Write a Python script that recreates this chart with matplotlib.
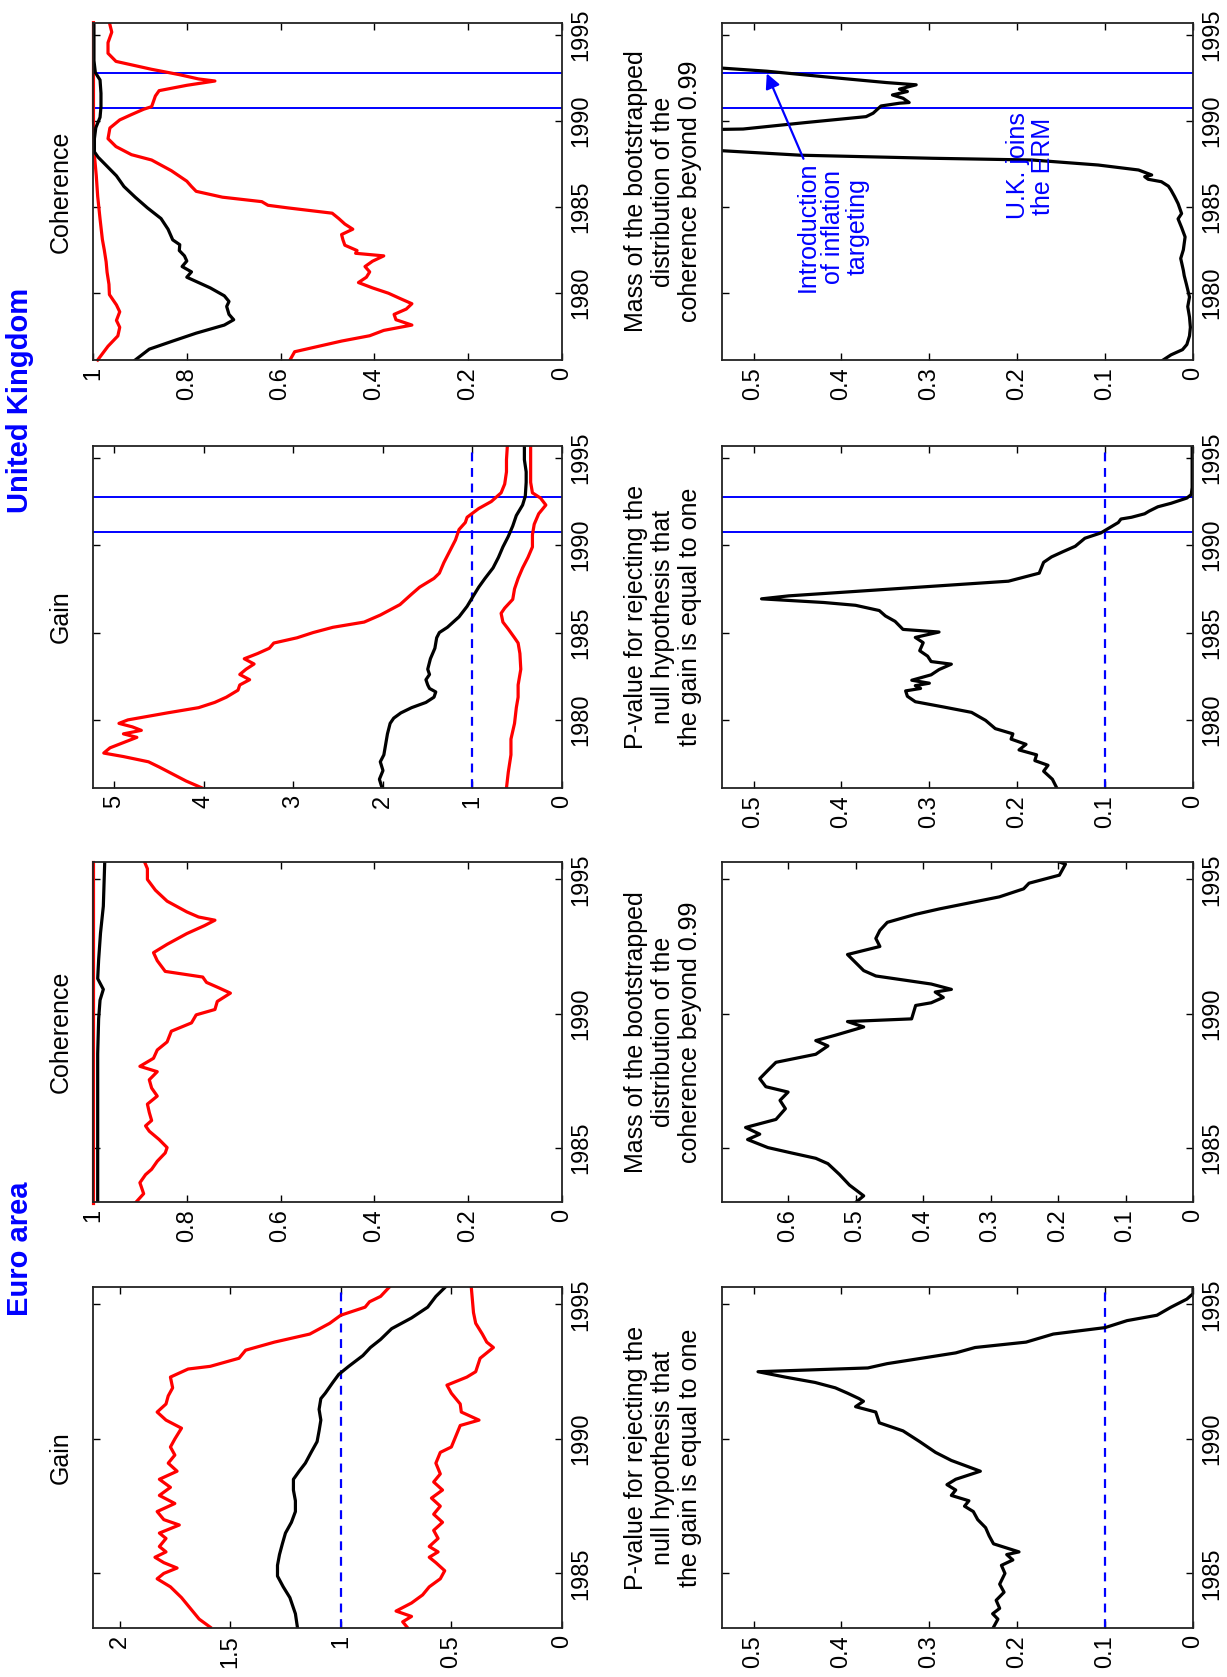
import matplotlib
matplotlib.use('Agg')
import matplotlib.pyplot as plt

plt.rcParams['font.family'] = ['Liberation Sans', 'DejaVu Sans']

# ---------------- DATA ----------------
# United Kingdom - Gain
uk_gain_t = [1976.1, 1976.6, 1977.1, 1977.6, 1978.0, 1978.6, 1979.2, 1979.8, 1980.1, 1980.4, 1980.7, 1981.0,
             1981.3, 1981.6, 1981.8, 1982.0, 1982.3, 1982.6, 1982.9, 1983.5, 1984.1, 1984.7, 1985.0, 1985.3,
             1985.9, 1986.5, 1987.1, 1987.6, 1988.1, 1988.7, 1989.3, 1989.9, 1990.5, 1991.1, 1991.7, 1992.3,
             1992.8, 1993.6, 1994.2, 1994.9, 1995.7]
uk_gain_v = [2.01, 2.04, 2.00, 2.03, 1.99, 1.97, 1.95, 1.92, 1.88, 1.80, 1.68, 1.52,
             1.43, 1.41, 1.48, 1.50, 1.52, 1.48, 1.50, 1.47, 1.42, 1.40, 1.37, 1.28,
             1.15, 1.06, 0.99, 0.93, 0.86, 0.77, 0.71, 0.66, 0.60, 0.55, 0.51, 0.44,
             0.41, 0.40, 0.40, 0.42, 0.42]
uk_gain_hi_t = [1976.1, 1976.5, 1976.9, 1977.3, 1977.6, 1977.9, 1978.1, 1978.4, 1978.7, 1979.0, 1979.2, 1979.4,
                1979.6, 1979.8, 1980.0, 1980.4, 1980.7, 1981.0, 1981.3, 1981.7, 1982.0, 1982.3, 1982.6, 1982.9,
                1983.2, 1983.5, 1983.8, 1984.1, 1984.4, 1984.7, 1985.0, 1985.3, 1985.6, 1986.0, 1986.3, 1986.6,
                1987.2, 1987.6, 1988.1, 1988.4, 1989.0, 1989.6, 1990.3, 1990.9, 1991.3, 1991.6, 1992.1, 1992.5,
                1993.0, 1993.5, 1994.2, 1994.9, 1995.7]
uk_gain_hi_v = [4.02, 4.20, 4.35, 4.50, 4.62, 4.90, 5.12, 5.05, 4.90, 4.75, 4.90, 4.70,
                4.80, 4.95, 4.85, 4.41, 4.06, 3.88, 3.75, 3.62, 3.60, 3.49, 3.60, 3.53,
                3.44, 3.55, 3.40, 3.27, 3.22, 2.96, 2.78, 2.56, 2.21, 2.03, 1.92, 1.81,
                1.68, 1.59, 1.43, 1.37, 1.32, 1.26, 1.19, 1.15, 1.08, 1.06, 0.93, 0.79,
                0.68, 0.64, 0.62, 0.62, 0.61]
uk_gain_lo_t = [1976.1, 1977.0, 1978.0, 1978.9, 1979.8, 1980.7, 1981.3, 1982.0, 1982.9, 1983.8, 1984.4, 1984.7,
                1985.2, 1985.6, 1986.1, 1986.4, 1986.9, 1987.5, 1988.1, 1988.7, 1989.3, 1989.9, 1990.6, 1991.2,
                1991.8, 1992.3, 1992.7, 1993.0, 1993.6, 1994.5, 1995.7]
uk_gain_lo_v = [0.62, 0.60, 0.57, 0.57, 0.53, 0.51, 0.49, 0.49, 0.46, 0.47, 0.49, 0.53,
                0.60, 0.66, 0.68, 0.64, 0.55, 0.53, 0.49, 0.44, 0.38, 0.33, 0.33, 0.31,
                0.26, 0.18, 0.24, 0.33, 0.35, 0.35, 0.35]

# United Kingdom - Coherence
uk_coh_t = [1976.1, 1976.73, 1977.2, 1977.66, 1978.13, 1978.44, 1978.75, 1979.21, 1979.5, 1979.83, 1980.29,
            1980.6, 1980.91, 1981.22, 1981.53, 1981.85, 1982.15, 1982.46, 1982.8, 1983.08, 1983.7, 1984.32,
            1984.94, 1985.56, 1986.18, 1986.8, 1987.41, 1987.88, 1988.19, 1988.96, 1989.6, 1990.2, 1990.82,
            1991.6, 1992.37, 1992.8, 1993.5, 1995.7]
uk_coh_v = [0.91, 0.88, 0.83, 0.78, 0.72, 0.70, 0.71, 0.715, 0.71, 0.72, 0.75,
            0.775, 0.80, 0.79, 0.81, 0.80, 0.805, 0.816, 0.815, 0.83, 0.84, 0.855,
            0.884, 0.91, 0.934, 0.95, 0.972, 0.989, 0.997, 0.997, 0.994, 0.985, 0.983,
            0.983, 0.985, 0.995, 0.998, 0.998]
uk_coh_hi_t = [1976.1, 1976.9, 1977.5, 1978.0, 1978.4, 1978.9, 1979.3, 1979.9, 1980.5, 1981.2, 1981.8,
               1982.5, 1983.1, 1984.3, 1985.6, 1986.8, 1988.0, 1990.0, 1995.7]
uk_coh_hi_v = [0.99, 0.968, 0.947, 0.943, 0.95, 0.943, 0.95, 0.965, 0.966, 0.97, 0.972,
               0.976, 0.98, 0.985, 0.99, 0.993, 0.997, 0.999, 0.999]
uk_coh_lo_t = [1976.1, 1976.58, 1976.89, 1977.2, 1977.51, 1977.82, 1978.13, 1978.44, 1978.75, 1979.06,
               1979.37, 1979.67, 1979.98, 1980.29, 1980.6, 1980.91, 1981.22, 1981.53, 1981.84, 1982.15,
               1982.3, 1982.46, 1982.77, 1983.08, 1983.39, 1983.7, 1984.0, 1984.32, 1984.63, 1984.94,
               1985.09, 1985.3, 1985.56, 1985.9, 1986.18, 1986.49, 1987.1, 1987.72, 1988.03, 1988.5,
               1988.96, 1989.58, 1990.05, 1990.36, 1990.67, 1990.82, 1991.13, 1991.44, 1991.75, 1992.06,
               1992.31, 1992.43, 1992.68, 1992.99, 1993.45, 1993.92, 1994.54, 1995.15, 1995.7]
uk_coh_lo_v = [0.58, 0.57, 0.52, 0.47, 0.41, 0.38, 0.32, 0.354, 0.358, 0.332,
               0.32, 0.345, 0.37, 0.404, 0.434, 0.417, 0.41, 0.42, 0.404, 0.38,
               0.44, 0.437, 0.463, 0.467, 0.47, 0.446, 0.463, 0.476, 0.49, 0.585,
               0.627, 0.64, 0.724, 0.78, 0.79, 0.80, 0.833, 0.875, 0.918, 0.951,
               0.968, 0.964, 0.943, 0.918, 0.892, 0.875, 0.871, 0.867, 0.859, 0.80,
               0.74, 0.775, 0.816, 0.875, 0.951, 0.968, 0.968, 0.96, 0.965]

# United Kingdom - P-value (gain = 1)
uk_pv_t = [1976.1, 1976.6, 1977.06, 1977.4, 1977.67, 1978.0, 1978.28, 1978.6, 1978.9, 1979.2, 1979.5,
           1979.97, 1980.43, 1980.74, 1981.04, 1981.35, 1981.66, 1981.8, 1981.96, 1982.1, 1982.27, 1982.58,
           1982.88, 1983.19, 1983.34, 1983.65, 1983.96, 1984.42, 1984.72, 1985.03, 1985.18, 1985.64, 1985.95,
           1986.26, 1986.56, 1986.72, 1986.93, 1987.1, 1987.94, 1988.4, 1989.02, 1989.33, 1989.63, 1989.94,
           1990.4, 1990.7, 1991.0, 1991.3, 1991.5, 1991.6, 1991.8, 1991.95, 1992.2, 1992.4, 1992.7, 1992.9,
           1993.3, 1995.7]
uk_pv_v = [0.155, 0.16, 0.17, 0.165, 0.18, 0.178, 0.198, 0.19, 0.207, 0.205, 0.225,
           0.236, 0.252, 0.284, 0.316, 0.325, 0.327, 0.31, 0.316, 0.30, 0.32, 0.298,
           0.289, 0.275, 0.298, 0.302, 0.311, 0.307, 0.316, 0.289, 0.33, 0.339, 0.35,
           0.357, 0.384, 0.42, 0.491, 0.46, 0.21, 0.175, 0.17, 0.161, 0.148, 0.134,
           0.123, 0.105, 0.095, 0.085, 0.082, 0.07, 0.055, 0.05, 0.04, 0.025, 0.007, 0.002,
           0.001, 0.001]

# United Kingdom - Mass of bootstrapped coherence beyond 0.99 (values above 0.536 run off the axis)
uk_mass_t = [1976.1, 1976.4, 1976.7, 1977.0, 1977.5, 1978.0, 1978.6, 1979.2, 1979.76, 1980.5, 1981.0,
             1981.31, 1982.0, 1982.5, 1983.25, 1983.8, 1984.3, 1984.61, 1985.19, 1985.6, 1985.97, 1986.2,
             1986.46, 1986.6, 1986.75, 1986.85, 1987.14, 1987.43, 1987.72, 1987.82, 1988.0, 1988.26, 1988.4,
             1989.4, 1989.5, 1989.52, 1989.9, 1990.24, 1990.44, 1990.86, 1991.02, 1991.06, 1991.31, 1991.5,
             1991.7, 1991.84, 1992.09, 1992.22, 1992.51, 1992.88, 1993.06, 1993.2, 1995.7]
uk_mass_v = [0.034, 0.025, 0.012, 0.007, 0.004, 0.003, 0.004, 0.006, 0.004, 0.0075, 0.01,
             0.011, 0.014, 0.011, 0.009, 0.013, 0.017, 0.013, 0.017, 0.021, 0.025, 0.028,
             0.036, 0.051, 0.055, 0.047, 0.062, 0.108, 0.183, 0.296, 0.447, 0.536, 0.9,
             0.9, 0.536, 0.512, 0.44, 0.372, 0.364, 0.355, 0.334, 0.323, 0.33, 0.342,
             0.325, 0.334, 0.315, 0.349, 0.41, 0.485, 0.536, 0.9, 0.9]

# Euro area - Gain
ea_gain_t = [1983.0, 1983.5, 1984.1, 1984.5, 1984.9, 1985.3, 1985.7, 1986.1, 1986.5, 1986.9, 1987.3, 1987.7,
             1988.1, 1988.5, 1988.8, 1989.1, 1989.5, 1989.9, 1990.3, 1990.7, 1991.1, 1991.5, 1991.7, 1992.1,
             1992.4, 1992.7, 1993.1, 1993.4, 1993.7, 1994.1, 1994.5, 1994.9, 1995.3, 1995.65]
ea_gain_v = [1.196, 1.205, 1.23, 1.26, 1.286, 1.286, 1.277, 1.264, 1.25, 1.223, 1.205, 1.205,
             1.214, 1.214, 1.188, 1.16, 1.134, 1.107, 1.098, 1.09, 1.098, 1.09, 1.07, 1.036,
             1.009, 0.964, 0.90, 0.866, 0.82, 0.77, 0.68, 0.607, 0.57, 0.527]
ea_gain_hi_t = [1983.0, 1983.3, 1983.7, 1984.1, 1984.5, 1984.8, 1985.0, 1985.2, 1985.4, 1985.6, 1985.8, 1986.0,
                1986.3, 1986.5, 1986.8, 1987.0, 1987.3, 1987.6, 1987.9, 1988.2, 1988.5, 1988.8, 1989.1, 1989.4,
                1989.7, 1990.0, 1990.4, 1990.7, 1991.0, 1991.3, 1991.6, 1991.9, 1992.3, 1992.6, 1992.7, 1993.0,
                1993.3, 1993.6, 1993.9, 1994.3, 1994.6, 1994.9, 1995.1, 1995.3, 1995.65]
ea_gain_hi_v = [1.59, 1.64, 1.68, 1.72, 1.77, 1.83, 1.80, 1.74, 1.80, 1.84, 1.79, 1.82,
                1.79, 1.82, 1.73, 1.80, 1.83, 1.75, 1.82, 1.77, 1.82, 1.74, 1.78, 1.75,
                1.77, 1.75, 1.72, 1.79, 1.83, 1.79, 1.78, 1.76, 1.77, 1.69, 1.59, 1.46,
                1.43, 1.30, 1.14, 1.05, 1.00, 0.89, 0.87, 0.82, 0.78]
ea_gain_lo_t = [1983.0, 1983.2, 1983.4, 1983.6, 1983.9, 1984.2, 1984.5, 1984.8, 1985.1, 1985.4, 1985.6, 1985.8,
                1986.0, 1986.3, 1986.6, 1986.9, 1987.2, 1987.5, 1987.8, 1988.1, 1988.4, 1988.7, 1989.1, 1989.5,
                1989.7, 1990.1, 1990.5, 1990.7, 1991.0, 1991.3, 1991.7, 1992.0, 1992.3, 1992.5, 1993.0, 1993.4,
                1993.6, 1993.9, 1994.3, 1994.7, 1995.65]
ea_gain_lo_v = [0.70, 0.72, 0.68, 0.75, 0.68, 0.63, 0.60, 0.55, 0.53, 0.57, 0.60, 0.56,
                0.60, 0.56, 0.58, 0.54, 0.58, 0.55, 0.59, 0.54, 0.58, 0.55, 0.57, 0.55,
                0.50, 0.48, 0.46, 0.375, 0.455, 0.46, 0.50, 0.52, 0.43, 0.39, 0.37, 0.31,
                0.34, 0.36, 0.39, 0.40, 0.41]

# Euro area - Coherence
ea_coh_t = [1982.95, 1984.0, 1985.5, 1987.0, 1988.5, 1989.8, 1990.5, 1990.9, 1991.3, 1992.0, 1993.0, 1994.0, 1995.65]
ea_coh_v = [0.99, 0.99, 0.99, 0.99, 0.99, 0.988, 0.985, 0.978, 0.99, 0.988, 0.984, 0.978, 0.975]
ea_coh_hi_t = [1982.95, 1987.0, 1991.0, 1995.65]
ea_coh_hi_v = [0.999, 0.999, 0.999, 0.999]
ea_coh_lo_t = [1982.95, 1983.28, 1983.69, 1983.99, 1984.19, 1984.49, 1984.8, 1985.0, 1985.3, 1985.61, 1985.81,
               1986.01, 1986.31, 1986.62, 1986.92, 1987.22, 1987.53, 1987.83, 1988.03, 1988.33, 1988.64,
               1988.94, 1989.34, 1989.65, 1989.95, 1990.15, 1990.45, 1990.76, 1990.96, 1991.16, 1991.36,
               1991.57, 1991.97, 1992.27, 1992.58, 1992.98, 1993.28, 1993.48, 1993.6, 1993.79, 1994.19,
               1994.6, 1995.0, 1995.4, 1995.65]
ea_coh_lo_v = [0.909, 0.892, 0.90, 0.888, 0.875, 0.863, 0.846, 0.842, 0.859, 0.88, 0.888,
               0.875, 0.88, 0.884, 0.863, 0.875, 0.88, 0.863, 0.90, 0.871, 0.863,
               0.842, 0.833, 0.79, 0.78, 0.74, 0.735, 0.707, 0.732, 0.758, 0.766,
               0.846, 0.863, 0.871, 0.842, 0.80, 0.762, 0.74, 0.775, 0.80, 0.842,
               0.867, 0.884, 0.884, 0.89]

# Euro area - P-value (gain = 1)
ea_pv_t = [1983.0, 1983.3, 1983.5, 1983.7, 1984.0, 1984.3, 1984.6, 1985.0, 1985.3, 1985.5, 1985.7, 1985.8,
           1986.1, 1986.4, 1986.7, 1987.0, 1987.3, 1987.5, 1987.7, 1987.9, 1988.1, 1988.3, 1988.5, 1988.8,
           1989.2, 1989.5, 1989.9, 1990.3, 1990.6, 1991.0, 1991.2, 1991.4, 1991.5, 1991.7, 1991.9, 1992.1,
           1992.3, 1992.5, 1992.64, 1992.8, 1993.2, 1993.4, 1993.6, 1993.9, 1994.14, 1994.4, 1994.6, 1994.9,
           1995.2, 1995.4, 1995.65]
ea_pv_v = [0.227, 0.222, 0.228, 0.220, 0.224, 0.215, 0.220, 0.214, 0.218, 0.205, 0.212, 0.198,
           0.227, 0.232, 0.236, 0.245, 0.250, 0.26, 0.255, 0.275, 0.270, 0.28, 0.27, 0.242,
           0.275, 0.293, 0.311, 0.33, 0.357, 0.361, 0.384, 0.375, 0.38, 0.393, 0.407, 0.43,
           0.464, 0.495, 0.37, 0.348, 0.27, 0.248, 0.19, 0.159, 0.10, 0.075, 0.041, 0.025,
           0.007, 0.0, 0.0]

# Euro area - Mass of bootstrapped coherence beyond 0.99
ea_mass_t = [1982.95, 1983.2, 1983.6, 1984.0, 1984.4, 1984.6, 1984.8, 1985.0, 1985.3, 1985.5, 1985.75, 1986.05,
             1986.45, 1986.76, 1987.07, 1987.27, 1987.57, 1987.88, 1988.18, 1988.48, 1988.79, 1988.99, 1989.19,
             1989.5, 1989.7, 1989.8, 1990.3, 1990.4, 1990.6, 1990.8, 1990.9, 1991.1, 1991.4, 1991.6, 1991.9,
             1992.2, 1992.5, 1992.8, 1993.1, 1993.4, 1993.7, 1993.9, 1994.35, 1994.65, 1994.86, 1995.16,
             1995.57, 1995.65]
ea_mass_v = [0.50, 0.488, 0.509, 0.524, 0.541, 0.559, 0.595, 0.63, 0.66, 0.642, 0.663, 0.618,
             0.604, 0.612, 0.60, 0.633, 0.642, 0.63, 0.618, 0.559, 0.541, 0.559, 0.53,
             0.488, 0.512, 0.417, 0.411, 0.388, 0.37, 0.382, 0.358, 0.388, 0.47, 0.488, 0.50,
             0.512, 0.464, 0.47, 0.464, 0.453, 0.411, 0.376, 0.287, 0.251, 0.243, 0.198,
             0.189, 0.198]

# Events (UK): joins the ERM, introduction of inflation targeting
uk_events = [1990.75, 1992.75]

# ---------------- LAYOUT ----------------
FS_TICK = 17
FS_TITLE = 18
RED = (1, 0, 0)
BLUE = (0, 0, 1)
LW = 2.3

fig = plt.figure(figsize=(12.27, 16.77), dpi=100)

colL, wL = 0.0758, 0.3822
colR, wR = 0.5884, 0.3839
rows = {'uk1': (0.78533, 0.20095), 'uk2': (0.53011, 0.20394),
        'ea1': (0.28324, 0.20274), 'ea2': (0.02922, 0.20334)}

uk_tlim = (1976.1, 1995.68)
ea_tlim = (1982.97, 1995.65)


def make_ax(col, row, vmax, vticks, vlabels, tlim, tticks, title):
    x0, w = (colL, wL) if col == 0 else (colR, wR)
    y0, h = rows[row]
    ax = fig.add_axes([x0, y0, w, h])
    ax.set_xlim(vmax, 0)
    ax.set_ylim(*tlim)
    ax.set_xticks(vticks)
    ax.set_xticklabels(vlabels, rotation=90)
    ax.set_yticks(tticks)
    ax.set_yticklabels([str(t) for t in tticks], rotation=90, va='center')
    ax.yaxis.tick_right()
    ax.tick_params(axis='both', direction='in', length=5, width=1.0,
                   top=True, bottom=True, left=True, right=True,
                   labelsize=FS_TICK, colors='black')
    ax.tick_params(axis='y', labelleft=False, labelright=True, pad=6)
    ax.tick_params(axis='x', labelbottom=True, labeltop=False, pad=5)
    for s in ax.spines.values():
        s.set_linewidth(1.3)
        s.set_color('#222222')
    ax.text(-20.0 / (w * 1227), 0.5, title, transform=ax.transAxes, rotation=90,
            ha='right', va='center', fontsize=FS_TITLE, multialignment='center',
            linespacing=1.15)
    return ax


pv_title = 'P-value for rejecting the\nnull hypothesis that\nthe gain is equal to one'
mass_title = 'Mass of the bootstrapped\ndistribution of the\ncoherence beyond 0.99'
coh_ticks = [0, 0.2, 0.4, 0.6, 0.8, 1]
coh_labels = ['0', '0.2', '0.4', '0.6', '0.8', '1']
p_ticks = [0, 0.1, 0.2, 0.3, 0.4, 0.5]
p_labels = ['0', '0.1', '0.2', '0.3', '0.4', '0.5']

# UK coherence
ax = make_ax(0, 'uk1', 1.0, coh_ticks, coh_labels, uk_tlim, [1980, 1985, 1990, 1995], 'Coherence')
for e in uk_events:
    ax.axhline(e, color=BLUE, lw=1.4)
ax.plot(uk_coh_hi_v, uk_coh_hi_t, color=RED, lw=LW, clip_on=False)
ax.plot(uk_coh_lo_v, uk_coh_lo_t, color=RED, lw=LW)
ax.plot(uk_coh_v, uk_coh_t, color='black', lw=LW)

# UK gain
ax = make_ax(0, 'uk2', 5.24, [0, 1, 2, 3, 4, 5], ['0', '1', '2', '3', '4', '5'], uk_tlim,
             [1980, 1985, 1990, 1995], 'Gain')
for e in uk_events:
    ax.axhline(e, color=BLUE, lw=1.4)
ax.axvline(1.0, color=BLUE, lw=1.6, linestyle=(0, (4, 3)))
ax.plot(uk_gain_hi_v, uk_gain_hi_t, color=RED, lw=LW)
ax.plot(uk_gain_lo_v, uk_gain_lo_t, color=RED, lw=LW)
ax.plot(uk_gain_v, uk_gain_t, color='black', lw=LW)

# UK mass
ax = make_ax(1, 'uk1', 0.536, p_ticks, p_labels, uk_tlim, [1980, 1985, 1990, 1995], mass_title)
for e in uk_events:
    ax.axhline(e, color=BLUE, lw=1.4)
ax.plot(uk_mass_v, uk_mass_t, color='black', lw=LW)
ax.annotate('Introduction\nof inflation\ntargeting', xy=(0.485, 1992.75), xytext=(0.41, 1983.84),
            textcoords='data', rotation=90, ha='center', va='center', multialignment='center',
            fontsize=FS_TITLE, color=BLUE, linespacing=1.05,
            arrowprops=dict(arrowstyle='-|>', color=BLUE, lw=1.6, mutation_scale=22, shrinkA=0, shrinkB=0))
ax.text(0.185, 1987.37, 'U.K. joins\nthe ERM', rotation=90, ha='center', va='center',
        multialignment='center', fontsize=FS_TITLE, color=BLUE, linespacing=1.05)

# UK p-value
ax = make_ax(1, 'uk2', 0.536, p_ticks, p_labels, uk_tlim, [1980, 1985, 1990, 1995], pv_title)
for e in uk_events:
    ax.axhline(e, color=BLUE, lw=1.4)
ax.axvline(0.1, color=BLUE, lw=1.6, linestyle=(0, (4, 3)))
ax.plot(uk_pv_v, uk_pv_t, color='black', lw=LW)

# Euro coherence
ax = make_ax(0, 'ea1', 1.0, coh_ticks, coh_labels, ea_tlim, [1985, 1990, 1995], 'Coherence')
ax.plot(ea_coh_lo_v, ea_coh_lo_t, color=RED, lw=LW)
ax.plot(ea_coh_v, ea_coh_t, color='black', lw=LW)
ax.plot(ea_coh_hi_v, ea_coh_hi_t, color=RED, lw=LW, clip_on=False)

# Euro gain
ax = make_ax(0, 'ea2', 2.12, [0, 0.5, 1, 1.5, 2], ['0', '0.5', '1', '1.5', '2'], ea_tlim,
             [1985, 1990, 1995], 'Gain')
ax.axvline(1.0, color=BLUE, lw=1.6, linestyle=(0, (4, 3)))
ax.plot(ea_gain_hi_v, ea_gain_hi_t, color=RED, lw=LW)
ax.plot(ea_gain_lo_v, ea_gain_lo_t, color=RED, lw=LW)
ax.plot(ea_gain_v, ea_gain_t, color='black', lw=LW)

# Euro mass
ax = make_ax(1, 'ea1', 0.698, [0, 0.1, 0.2, 0.3, 0.4, 0.5, 0.6],
             ['0', '0.1', '0.2', '0.3', '0.4', '0.5', '0.6'], ea_tlim, [1985, 1990, 1995], mass_title)
ax.plot(ea_mass_v, ea_mass_t, color='black', lw=LW)

# Euro p-value
ax = make_ax(1, 'ea2', 0.536, p_ticks, p_labels, ea_tlim, [1985, 1990, 1995], pv_title)
ax.axvline(0.1, color=BLUE, lw=1.6, linestyle=(0, (4, 3)))
ax.plot(ea_pv_v, ea_pv_t, color='black', lw=LW)

# Country headers
fig.text(0.0163, 0.7615, 'United Kingdom', rotation=90, ha='center', va='center',
         fontsize=21, fontweight='bold', color=BLUE)
fig.text(0.0163, 0.2552, 'Euro area', rotation=90, ha='center', va='center',
         fontsize=21, fontweight='bold', color=BLUE)

fig.savefig('out.png', dpi=100)
